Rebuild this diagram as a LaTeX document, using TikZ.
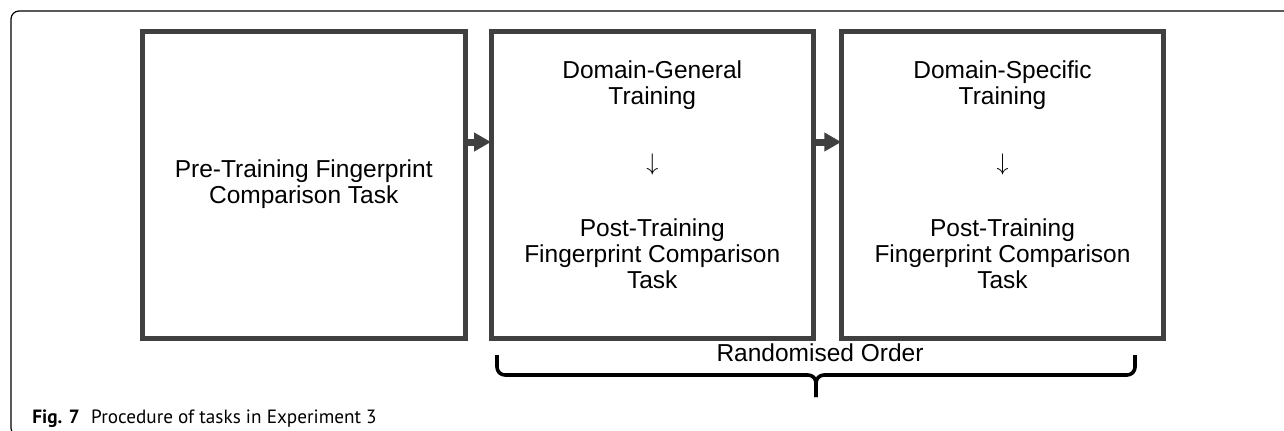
\documentclass[tikz,border=0pt]{standalone}
\usepackage{fontspec}
\setmainfont{Liberation Sans}
\newfontfamily\capfont{PT Sans}
\usetikzlibrary{arrows.meta,positioning}
\definecolor{boxgray}{HTML}{404040}
\begin{document}
\begin{tikzpicture}[x=0.5pt,y=-0.5pt,
    stagebox/.style={draw=boxgray, line width=2.5pt, minimum width=161.25pt, minimum height=153.5pt, inner sep=0pt, outer sep=0pt},
    stagetext/.style={align=center, font=\fontsize{12.25}{13}\selectfont, inner sep=0pt},
    flow/.style={draw=boxgray, line width=3.5pt, -{Triangle[length=8.5pt,width=9pt]}},
    bracepath/.style={line width=1.8pt, rounded corners=4pt}]
    \useasboundingbox (0,0) rectangle (1284,430);
    % frame of the figure
    \draw[line width=0.6pt, rounded corners=4pt] (1300,11) -- (11,11) -- (11,436) -- (1300,436);
    % the three stages
    \foreach \name/\x in {pre/303.75,gen/652.25,spec/1002.5}
        \node[stagebox] (\name) at (\x,184.5) {};
    \node[stagetext] (pretext) at (pre) {Pre-Training Fingerprint\\Comparison Task};
    \node[stagetext, anchor=north] (gentext) at ([yshift=-14.5pt]gen.north) {Domain-General\\Training\\[20pt]$\downarrow$\\[20pt]Post-Training\\Fingerprint Comparison\\Task};
    \node[stagetext, anchor=north] (spectext) at ([yshift=-14.5pt]spec.north) {Domain-Specific\\Training\\[20pt]$\downarrow$\\[20pt]Post-Training\\Fingerprint Comparison\\Task};
    \draw[flow] ([yshift=21.25pt]pre.east) -- ([yshift=21.25pt]gen.west);
    \draw[flow] ([yshift=21.25pt]gen.east) -- ([yshift=21.25pt]spec.west);
    % brace under the two training stages
    \coordinate (bl) at (497,355);
    \coordinate (br) at (1135,355);
    \coordinate (tip) at (816,397);
    \draw[bracepath] (bl) |- (tip |- 0,375) -- (tip);
    \draw[bracepath] (br) |- (tip |- 0,375) -- (tip);
    \node[stagetext, anchor=base] (order) at (820,361) {Randomised Order};
    \node[anchor=base west, font=\capfont\fontsize{9.6}{11}\selectfont, inner sep=0pt] (caption) at (32,423) {\textbf{Fig. 7}\hspace{0.6em}Procedure of tasks in Experiment 3};
\end{tikzpicture}
\end{document}
